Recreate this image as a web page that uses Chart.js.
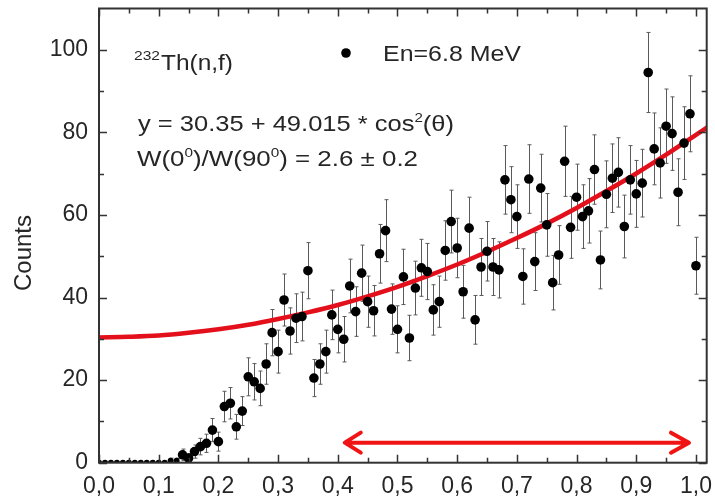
<!DOCTYPE html>
<html>
<head>
<meta charset="utf-8">
<script src="https://cdn.jsdelivr.net/npm/chart.js@4.4.1/dist/chart.umd.min.js"></script>
<style>
html,body{margin:0;padding:0;background:#fff;}
#wrap{width:715px;height:496px;position:relative;}
</style>
</head>
<body>
<div id="wrap"><canvas id="c" width="715" height="496"></canvas></div>
<script>
// ---- data ----
const xValues = [0.00,0.01,0.02,0.03,0.04,0.05,0.06,0.07,0.08,0.09,
  0.10,0.11,0.12,0.13,0.14,0.15,0.16,0.17,0.18,0.19,
  0.20,0.21,0.22,0.23,0.24,0.25,0.26,0.27,0.28,0.29,
  0.30,0.31,0.32,0.33,0.34,0.35,0.36,0.37,0.38,0.39,
  0.40,0.41,0.42,0.43,0.44,0.45,0.46,0.47,0.48,0.49,
  0.50,0.51,0.52,0.53,0.54,0.55,0.56,0.57,0.58,0.59,
  0.60,0.61,0.62,0.63,0.64,0.65,0.66,0.67,0.68,0.69,
  0.70,0.71,0.72,0.73,0.74,0.75,0.76,0.77,0.78,0.79,
  0.80,0.81,0.82,0.83,0.84,0.85,0.86,0.87,0.88,0.89,
  0.90,0.91,0.92,0.93,0.94,0.95,0.96,0.97,0.98,0.99,1.00];
const counts = [0,0,0,0,0,0,0,0,0,0,
  0,0,0.5,0.5,1.9,1.1,2.7,3.9,4.7,7.9,
  5.1,13.6,14.4,8.7,12.5,20.8,19.6,18.0,23.9,31.5,
  26.9,39.4,31.9,35.0,35.4,46.5,20.5,23.9,26.9,35.8,
  32.3,29.9,42.8,36.6,45.9,39.0,36.8,50.6,56.2,37.2,
  32.3,45.0,30.2,42.3,47.2,46.3,37.0,39.0,51.4,58.4,
  52.0,41.4,56.8,34.6,47.4,51.2,47.4,46.7,68.5,63.7,
  59.6,45.1,68.7,48.7,66.5,57.6,43.6,50.3,73.0,57.0,
  64.3,59.6,61.0,71.0,49.1,65.0,68.9,70.3,57.2,68.5,
  65.1,67.7,94.5,76.0,72.6,81.5,79.7,65.5,77.4,84.5,47.7];
const errors = [0,0,0,0,0,0,0,0,0,0,
  0,0,0.6,0.6,1.4,1.1,1.6,2.0,2.2,2.8,
  2.3,3.7,3.8,3.0,3.5,4.6,4.4,4.2,4.9,5.6,
  5.2,6.3,5.6,5.9,5.9,6.8,4.5,4.9,5.2,6.0,
  5.7,5.5,6.5,6.0,6.8,6.2,6.1,7.1,7.5,6.1,
  5.7,6.7,5.5,6.5,6.9,6.8,6.1,6.2,7.2,7.6,
  7.2,6.4,7.5,5.9,6.9,7.2,6.9,6.8,8.3,8.0,
  7.7,6.7,8.3,7.0,8.2,7.6,6.6,7.1,8.5,7.5,
  8.0,7.7,7.8,8.4,7.0,8.1,8.3,8.4,7.6,8.3,
  8.1,8.2,9.7,8.7,8.5,9.0,8.9,8.1,8.8,9.2,6.9];
// fit curve y = 30.35 + 49.015*cos^2
const fitX = [0,0.05,0.10,0.15,0.20,0.25,0.30,0.35,0.40,0.45,0.50,
  0.55,0.60,0.65,0.70,0.75,0.80,0.85,0.90,0.95,1.00,1.02];
const fitY = [30.35,30.5,30.8,31.45,32.3,33.4,34.8,36.4,38.2,40.3,42.6,
  45.2,48.0,51.1,54.4,57.9,61.7,65.8,70.05,74.6,79.4,81.3];
const xTickValues = [0,0.1,0.2,0.3,0.4,0.5,0.6,0.7,0.8,0.9,1.0];
const xTickLabels = ['0,0','0,1','0,2','0,3','0,4','0,5','0,6','0,7','0,8','0,9','1,0'];
const xMinorValues = [0.05,0.15,0.25,0.35,0.45,0.55,0.65,0.75,0.85,0.95];
const yTickValues = [0,20,40,60,80,100];
const yTickLabels = ['0','20','40','60','80','100'];
const yMinorValues = [10,30,50,70,90];
const arrowX = [0.41, 0.99];
const arrowY = 4.85;
const yTitle = 'Counts';

// ---- chart ----
const FONT = '"Liberation Sans", Arial, sans-serif';
const TEXT = '#262626';
const RED = '#e3101c';

function richText(ctx, parts, x, base, size, targetW) {
  let w = 0;
  parts.forEach(p => {
    ctx.font = (p.sup ? Math.round(size*0.58) : size) + 'px ' + FONT;
    w += ctx.measureText(p.t).width;
  });
  const sx = targetW ? targetW / w : 1;
  ctx.save();
  ctx.translate(x, base);
  ctx.scale(sx, 1);
  let cx = 0;
  parts.forEach(p => {
    ctx.font = (p.sup ? Math.round(size*0.58) : size) + 'px ' + FONT;
    ctx.fillText(p.t, cx, p.sup ? -size*0.42 : 0);
    cx += ctx.measureText(p.t).width;
  });
  ctx.restore();
}

const decor = {
  id: 'decor',
  beforeDatasetsDraw(chart) {
    const {ctx, scales:{x, y}, chartArea:a} = chart;
    ctx.save();
    ctx.beginPath();
    ctx.rect(a.left, a.top, a.right - a.left, a.bottom - a.top);
    ctx.clip();
    ctx.strokeStyle = '#5a5a5a';
    ctx.lineWidth = 1;
    xValues.forEach((xv, i) => {
      const e = errors[i];
      if (!e) return;
      const px = Math.round(x.getPixelForValue(xv)) + 0.5;
      const p1 = y.getPixelForValue(counts[i] + e);
      const p2 = y.getPixelForValue(counts[i] - e);
      ctx.beginPath();
      ctx.moveTo(px, p1); ctx.lineTo(px, p2);
      ctx.moveTo(px - 2, p1); ctx.lineTo(px + 2, p1);
      ctx.moveTo(px - 2, p2); ctx.lineTo(px + 2, p2);
      ctx.stroke();
    });
    ctx.restore();
  },
  afterDraw(chart) {
    const {ctx, scales:{x, y}, chartArea:a} = chart;
    ctx.save();
    ctx.strokeStyle = '#333';
    ctx.lineWidth = 2;
    ctx.strokeRect(a.left, a.top, a.right - a.left, a.bottom - a.top);
    ctx.lineWidth = 1.5;
    ctx.beginPath();
    const tx = (v, len) => {
      const px = Math.round(x.getPixelForValue(v)) + 0.5;
      ctx.moveTo(px, a.bottom); ctx.lineTo(px, a.bottom - len);
      ctx.moveTo(px, a.top); ctx.lineTo(px, a.top + len);
    };
    const ty = (v, len) => {
      const py = Math.round(y.getPixelForValue(v)) + 0.5;
      ctx.moveTo(a.left, py); ctx.lineTo(a.left + len, py);
      ctx.moveTo(a.right, py); ctx.lineTo(a.right - len, py);
    };
    xTickValues.forEach(v => tx(v, 8));
    xMinorValues.forEach(v => tx(v, 5));
    yTickValues.forEach(v => ty(v, 8));
    yMinorValues.forEach(v => ty(v, 5));
    ctx.stroke();

    // red double arrow
    const ax1 = x.getPixelForValue(arrowX[0]);
    const ax2 = x.getPixelForValue(arrowX[1]);
    const ay = y.getPixelForValue(arrowY);
    ctx.strokeStyle = '#f01414';
    ctx.lineWidth = 4;
    ctx.lineCap = 'round';
    ctx.lineJoin = 'round';
    ctx.beginPath();
    ctx.moveTo(ax1 + 2, ay); ctx.lineTo(ax2 - 2, ay);
    ctx.moveTo(ax1 + 17, ay - 10); ctx.lineTo(ax1 + 1, ay); ctx.lineTo(ax1 + 17, ay + 10);
    ctx.moveTo(ax2 - 19, ay - 10); ctx.lineTo(ax2 - 1, ay); ctx.lineTo(ax2 - 19, ay + 10);
    ctx.stroke();

    // annotations
    ctx.fillStyle = TEXT;
    ctx.textBaseline = 'alphabetic';
    ctx.textAlign = 'left';
    richText(ctx, [{t:'232', sup:true}], 134, 69, 22, 26);
    richText(ctx, [{t:'Th(n,f)'}], 161, 70, 22, 72);
    richText(ctx, [{t:'En=6.8 MeV'}], 383, 61, 22, 138);
    richText(ctx, [{t:'y = 30.35 + 49.015 * cos'},{t:'2',sup:true},{t:'(θ)'}], 138, 131, 22, 316);
    richText(ctx, [{t:'W(0'},{t:'0',sup:true},{t:')/W(90'},{t:'0',sup:true},{t:') = 2.6 ± 0.2'}], 137, 166, 22, 281);
    ctx.fillStyle = '#000';
    ctx.beginPath();
    ctx.arc(346, 53, 4.8, 0, Math.PI*2);
    ctx.fill();

    // y title
    ctx.fillStyle = TEXT;
    ctx.save();
    ctx.translate(31, 253);
    ctx.rotate(-Math.PI/2);
    ctx.textAlign = 'center';
    ctx.font = '24px ' + FONT;
    ctx.fillText(yTitle, 0, 0);
    ctx.restore();
    ctx.restore();
  }
};

new Chart(document.getElementById('c'), {
  type: 'scatter',
  data: {
    datasets: [
      {
        label: 'En=6.8 MeV',
        data: xValues.map((v, i) => ({x: v, y: counts[i]})),
        backgroundColor: '#000',
        borderColor: '#000',
        pointRadius: c => (c.raw && c.raw.y < 1) ? 3 : 4.8,
        pointBorderWidth: 0,
        showLine: false,
        order: 0
      },
      {
        label: 'fit',
        data: fitX.map((v, i) => ({x: v, y: fitY[i]})),
        showLine: true,
        borderColor: RED,
        borderWidth: 4.5,
        pointRadius: 0,
        cubicInterpolationMode: 'monotone',
        order: 1
      }
    ]
  },
  options: {
    responsive: false,
    animation: false,
    devicePixelRatio: 1,
    layout: { padding: { top: 8.5, right: 8.3, left: 0, bottom: 0 } },
    plugins: { legend: { display: false }, tooltip: { enabled: false } },
    scales: {
      x: {
        type: 'linear', min: 0, max: 1.018,
        grid: { display: false, drawTicks: false },
        border: { display: false },
        afterBuildTicks: s => { s.ticks = xTickValues.map(v => ({value: v})); },
        afterFit: s => { s.height = 33.3; s.paddingLeft = 0; s.paddingRight = 0; },
        ticks: {
          autoSkip: false, maxRotation: 0, padding: 10,
          color: TEXT, font: { family: FONT, size: 23 },
          callback: (v, i) => xTickLabels[i]
        }
      },
      y: {
        type: 'linear', min: 0, max: 110,
        grid: { display: false, drawTicks: false },
        border: { display: false },
        afterBuildTicks: s => { s.ticks = yTickValues.map(v => ({value: v})); },
        afterFit: s => { s.width = 99; s.paddingTop = 0; s.paddingBottom = 0; },
        ticks: {
          autoSkip: false, padding: 11,
          color: TEXT, font: { family: FONT, size: 23 },
          callback: (v, i) => yTickLabels[i]
        }
      }
    }
  },
  plugins: [decor]
});
</script>
</body>
</html>
